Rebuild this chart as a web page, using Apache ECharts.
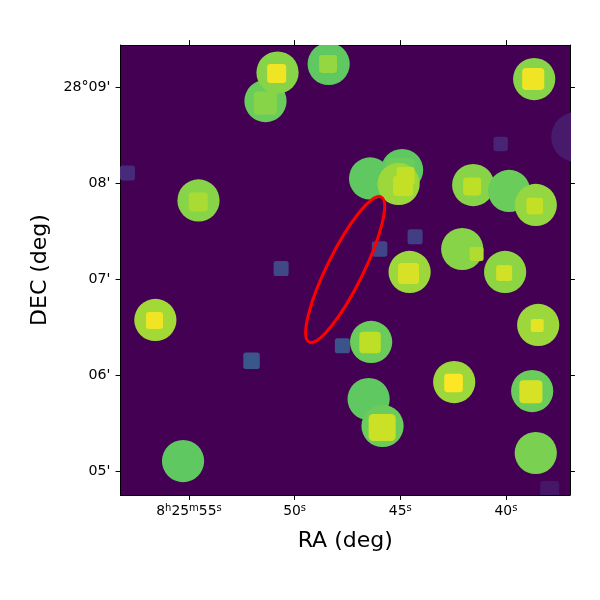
<!DOCTYPE html>
<html><head><meta charset="utf-8">
<style>html,body{margin:0;padding:0;background:#fff}#c{width:600px;height:600px}</style>
<script src="https://cdn.jsdelivr.net/npm/echarts@6/dist/echarts.min.js"></script>
</head><body><div id="c"></div>
<script>
// RA in seconds of time past 8h25m, DEC in arcminutes past 28 deg, size in arcseconds, level 0..1
const srcRa = [55.28,54.55,54.56,51.38,51.39,50.81,50.85,48.39,48.42,46.43,44.915,45.01,45.08,44.87,44.75,41.55,41.6,39.85,38.59,38.64,38.665,38.71,42.07,41.39,44.56,44.61,40.04,40.085,56.59,56.63,38.475,38.52,46.38,46.43,42.45,42.48,38.76,38.82,46.5,45.84,45.86,38.59,36.68,57.91,50.64,45.98,44.3,40.25,37.93,52.04,47.74];
const srcDec = [5.104,7.818,7.802,8.854,8.833,9.151,9.141,9.24,9.24,8.047,8.135,8.104,7.99,7.969,8.073,7.979,7.964,7.917,7.771,7.76,9.083,9.083,7.3125,7.26,7.073,7.057,7.073,7.0625,6.573,6.568,6.521,6.515,6.344,6.339,5.927,5.917,5.833,5.826,5.75,5.469,5.453,5.1875,8.479,8.104,7.109,7.3125,7.441,8.406,4.797,6.149,6.304];
const srcSize = [26.4,26.4,11.9,26.4,14.4,26.4,11.9,26.4,11.2,26.4,26.4,18.8,26.4,12.5,11.25,26.4,11.2,26.4,26.4,10.3,26.4,13.8,26.4,8.8,26.4,13.1,26.4,10,26.4,10.6,26.4,8.1,26.4,13.4,26.4,11.6,26.4,14.4,26.4,26.4,16.9,26.4,31.2,9.4,9.4,9.7,9.4,9,11.9,10.3,9.4];
const srcLevel = [0.75,0.82,0.87,0.77,0.82,0.82,0.98,0.75,0.84,0.75,0.75,0.77,0.85,0.91,0.91,0.82,0.9,0.77,0.84,0.91,0.82,0.98,0.82,0.88,0.85,0.94,0.83,0.93,0.86,0.98,0.85,0.96,0.77,0.9,0.85,1,0.77,0.94,0.75,0.77,0.92,0.8,0.07,0.12,0.22,0.2,0.18,0.1,0.06,0.27,0.25];
const srcIsBox = [0,0,1,0,1,0,1,0,1,0,0,1,0,1,1,0,1,0,0,1,0,1,0,1,0,1,0,1,0,1,0,1,0,1,0,1,0,1,0,0,1,0,0,1,1,1,1,1,1,1,1];
const ellipseCentre = [47.61, 7.099];
const ellipseAxes = [50.6, 11.25];   // semi-axes, arcsec
const ellipseTilt = 26.4;            // degrees from north
const raTicks = [40,45,50,55];
const raLabels = {40:'40{s|s}',45:'45{s|s}',50:'50{s|s}',55:'8{s|h}25{s|m}55{s|s}'};
const decTicks = [5,6,7,8,9];
const decLabels = {5:"05'",6:"06'",7:"07'",8:"08'",9:"28°09'"};
const viridis = ['#440154','#482475','#414487','#355f8d','#2a788e','#21918c','#22a884','#44bf70','#7ad151','#bddf26','#fde725'];

const font = 'DejaVu Sans';
const sources = srcRa.map((r,i)=>[r,srcDec[i],srcSize[i],srcLevel[i],srcIsBox[i]]);
const raRange = [36.97,58.24], decRange = [4.75,9.4375];

function xA(main){return {type:'value',inverse:true,min:raRange[0],max:raRange[1],position:main?'bottom':'top',
  name:main?'RA (deg)':'',nameLocation:'middle',nameGap:35,nameTextStyle:{fontFamily:font,fontSize:22,color:'#000'},
  splitLine:{show:false},axisLine:{show:true,onZero:false,lineStyle:{color:'#000',width:1}},
  axisTick:{show:true,length:4.9,lineStyle:{color:'#000',width:1},customValues:raTicks},
  axisLabel:{show:main,margin:8,fontFamily:font,fontSize:13.9,color:'#000',lineHeight:16,customValues:raTicks,formatter:v=>raLabels[v]||'',
    rich:{s:{fontFamily:font,fontSize:10,color:'#000',lineHeight:16,verticalAlign:'top'}}}};}
function yA(main){return {type:'value',min:decRange[0],max:decRange[1],position:main?'left':'right',
  name:main?'DEC (deg)':'',nameLocation:'middle',nameGap:69,nameTextStyle:{fontFamily:font,fontSize:22,color:'#000'},
  splitLine:{show:false},axisLine:{show:true,onZero:false,lineStyle:{color:'#000',width:1}},
  axisTick:{show:true,length:4.9,lineStyle:{color:'#000',width:1},customValues:decTicks},
  axisLabel:{show:main,margin:10,padding:[0,0,4,0],fontFamily:font,fontSize:14.2,color:'#000',customValues:decTicks,formatter:v=>decLabels[v]||''}};}

const chart = echarts.init(document.getElementById('c'),null,{renderer:'canvas'});
chart.setOption({
  animation:false,backgroundColor:'#fff',
  grid:{left:120.5,right:30,top:45,bottom:105,show:true,backgroundColor:viridis[0],borderWidth:0},
  xAxis:[xA(true),xA(false)],yAxis:[yA(true),yA(false)],
  visualMap:{show:false,seriesIndex:0,dimension:3,min:0,max:1,inRange:{color:viridis}},
  series:[
   {type:'custom',clip:true,data:sources,encode:{x:0,y:1},silent:true,
    renderItem(params,api){
      const p=api.coord([api.value(0),api.value(1)]);
      const unit=api.size([1,1]);
      const side=api.value(2)/60*unit[1];
      const fill=api.visual('color');
      if(api.value(4)){
        return {type:'rect',shape:{x:p[0]-side/2,y:p[1]-side/2,width:side,height:side,r:side*0.17},style:{fill}};
      }
      return {type:'circle',shape:{cx:p[0],cy:p[1],r:side/2},style:{fill}};
    }},
   {type:'custom',clip:true,data:[[ellipseCentre[0],ellipseCentre[1],ellipseAxes[0],ellipseAxes[1],ellipseTilt]],encode:{x:0,y:1},silent:true,
    renderItem(params,api){
      const p=api.coord([api.value(0),api.value(1)]);
      const u=api.size([1,1])[1]/60;
      return {type:'ellipse',x:p[0],y:p[1],rotation:-api.value(4)*Math.PI/180,
        shape:{cx:0,cy:0,rx:api.value(3)*u,ry:api.value(2)*u},
        style:{fill:null,stroke:'#ff0000',lineWidth:3}};
    }}
  ]
});
</script></body></html>
